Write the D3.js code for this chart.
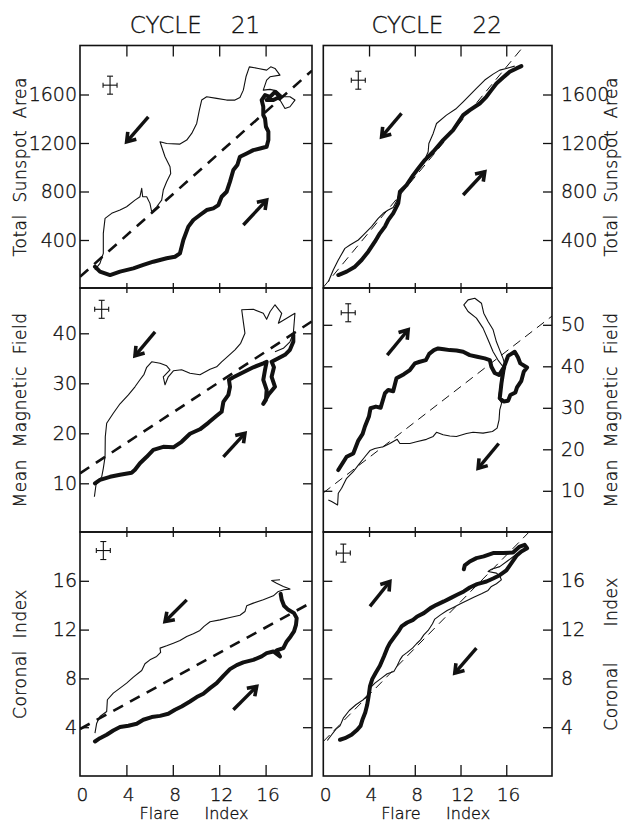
<!DOCTYPE html>
<html>
<head>
<meta charset="utf-8">
<script src="https://cdn.jsdelivr.net/npm/d3@7"></script>
<style>
  body { margin: 0; background: #fff; }
  svg { display: block; }
  text { font-family: "DejaVu Sans", sans-serif; font-weight: 300; fill: #111; stroke: #111; stroke-width: 0.35px; }
</style>
</head>
<body>
<svg id="chart" width="622" height="822"></svg>
<script>
// column titles and axis labels
const cycleTitles = ["CYCLE    21", "CYCLE    22"];
const rowLabelsLeft = ["Total  Sunspot  Area", "Mean  Magnetic  Field", "Coronal  Index"];
const rowLabelsRight = ["Total  Sunspot  Area", "Mean  Magnetic  Field", "Coronal      Index"];
const xLabel = "Flare     Index";

// tick values
const flareTicks = [0, 4, 8, 12, 16];
const areaTicks = [400, 800, 1200, 1600];
const fieldTicks21 = [10, 20, 30, 40];
const fieldTicks22 = [10, 20, 30, 40, 50];
const coronalTicks = [4, 8, 12, 16];

const areaDomain = [0, 2000];
const field21Domain = [0, 49];
const field22Domain = [0, 58.7];
const coronalDomain = [0, 20];

// cycle 21, sunspot area vs flare index
const c21AreaRise = [[1.29,180],[1.72,139],[2.59,111],[3.45,139],[4.60,166],[5.46,194],[6.32,221],[7.47,249],
  [8.19,262],[8.62,290],[8.91,400],[9.34,510],[9.77,565],[10.34,606],[10.92,647],[11.49,661],[11.93,688],
  [12.21,757],[12.64,798],[12.93,881],[13.22,977],[13.56,1018],[13.79,1087],[14.37,1114],[14.94,1141],
  [15.52,1155],[16.09,1169],[16.24,1224],[16.24,1293],[16.03,1334],[15.95,1402],[15.80,1430],[15.80,1499],
  [15.66,1554],[15.95,1595],[16.38,1581],[16.81,1622],[17.24,1581],[16.67,1554],[16.09,1554]];
const c21AreaDecay = [[1.29,153],[1.72,207],[2.01,290],[2.01,455],[2.16,578],[2.73,620],[3.45,647],[4.02,674],
  [4.74,729],[5.17,757],[5.32,826],[5.40,757],[5.75,757],[6.03,702],[6.18,633],[6.61,674],[7.04,729],[7.18,812],
  [7.47,880],[7.82,949],[7.76,1004],[7.33,1087],[7.04,1169],[6.90,1210],[7.47,1196],[8.62,1191],[9.20,1224],
  [9.63,1279],[10.06,1361],[10.29,1471],[10.49,1554],[10.92,1581],[11.78,1568],[12.64,1554],[13.36,1554],
  [13.79,1576],[14.08,1636],[14.31,1746],[14.60,1828],[15.37,1815],[16.09,1801],[16.44,1828],[16.81,1815],
  [17.24,1760],[16.38,1746],[16.09,1719],[15.80,1636],[16.38,1642],[16.95,1630],[17.53,1581],[18.10,1581],
  [18.53,1554],[18.10,1499],[17.67,1485],[17.24,1554],[16.67,1568]];

// cycle 22, sunspot area vs flare index
const c22AreaRise = [[1.31,111],[2.04,139],[2.77,180],[3.35,235],[3.93,304],[4.51,386],[4.95,455],[5.39,510],
  [5.68,565],[6.11,620],[6.55,702],[6.70,798],[7.28,853],[7.86,935],[8.30,990],[8.88,1059],[9.61,1128],
  [10.48,1224],[11.35,1306],[12.23,1430],[12.81,1471],[13.68,1526],[14.26,1581],[14.70,1636],[15.14,1691],
  [15.72,1740],[16.30,1787],[16.89,1815],[17.32,1834]];
const c22AreaDecay = [[0.44,56],[0.87,152],[1.31,235],[1.89,331],[2.33,359],[3.06,400],[3.49,441],[4.22,510],
  [4.80,578],[5.24,620],[5.68,647],[6.11,668],[6.46,729],[6.70,806],[7.57,880],[8.15,977],[8.73,1031],
  [9.17,1128],[9.23,1196],[9.61,1279],[9.90,1361],[10.77,1430],[11.64,1485],[12.23,1540],[12.66,1581],
  [13.39,1650],[14.12,1719],[14.85,1768],[15.43,1801],[16.01,1815],[16.74,1834]];

// cycle 21, mean magnetic field vs flare index
const c21FieldRise = [[1.29,10.0],[1.72,10.7],[2.59,11.3],[3.45,11.7],[4.45,12.1],[4.74,12.7],[5.17,14.0],
  [5.75,15.3],[6.32,16.7],[7.18,17.3],[8.05,17.2],[8.76,18.3],[9.48,19.9],[10.34,20.8],[11.06,22.1],
  [11.78,23.5],[12.21,24.3],[12.36,26.3],[12.79,27.7],[12.93,29.3],[12.84,30.7],[13.22,31.2],[14.08,32.2],
  [14.94,33.2],[15.80,34.0],[16.09,34.3],[15.95,32.7],[15.80,30.7],[16.09,28.7],[16.03,26.7],[15.80,25.9],
  [16.24,27.7],[16.81,29.3],[16.52,31.3],[16.72,33.2],[16.52,34.3],[17.10,35.0],[17.67,35.7],[18.10,36.7],
  [18.39,38.3],[18.39,39.7]];
const c21FieldDecay = [[1.24,7.3],[1.38,9.7],[1.87,11.3],[2.01,13.0],[2.16,15.3],[2.18,19.3],[2.30,22.0],
  [2.87,24.0],[3.45,25.9],[4.17,27.7],[4.74,29.3],[5.17,30.7],[5.52,31.8],[5.75,33.2],[6.18,34.3],[6.90,34.0],
  [7.47,33.5],[7.76,32.7],[7.18,31.3],[7.33,29.7],[7.61,31.3],[8.05,32.5],[8.76,32.7],[9.48,32.0],[10.34,31.7],
  [11.21,32.8],[11.78,33.3],[12.21,34.3],[12.79,35.5],[13.36,36.7],[13.85,38.0],[14.22,40.0],[14.08,42.3],
  [13.94,44.7],[14.94,44.8],[15.80,44.0],[16.09,42.8],[16.38,44.3],[16.81,45.7],[17.39,44.0],[17.10,42.0],
  [17.82,43.0],[18.53,44.0],[18.39,40.0],[18.10,38.3],[17.53,37.0],[16.81,36.3]];

// cycle 22, mean magnetic field vs flare index
const c22FieldRise = [[1.31,15.0],[2.04,18.2],[2.62,19.0],[3.06,22.1],[3.44,23.7],[3.64,25.5],[3.99,27.9],
  [4.13,29.9],[4.60,30.3],[5.01,30.0],[5.39,33.5],[5.68,34.3],[6.11,34.0],[6.40,37.1],[7.05,38.1],[7.57,39.1],
  [8.01,40.7],[8.44,41.1],[8.97,41.5],[9.26,43.0],[9.67,43.9],[10.04,44.3],[10.54,44.1],[11.06,43.9],
  [11.65,43.8],[12.23,43.5],[12.81,42.7],[13.45,42.3],[14.12,41.9],[14.56,41.5],[14.70,39.9],[14.99,38.4],
  [15.37,37.9],[15.78,39.7],[16.16,42.5],[16.74,43.5],[17.03,42.1],[17.23,40.7],[17.82,39.7],[17.53,38.7],
  [17.32,36.5],[16.94,34.9],[16.80,33.7],[16.36,33.1],[16.16,31.7],[15.78,31.5],[15.43,32.3],[15.58,35.9],
  [15.78,39.5]];
const c22FieldDecay = [[15.72,39.9],[15.28,41.5],[14.85,43.5],[14.41,46.4],[13.97,49.2],[13.39,51.6],
  [12.66,53.2],[12.29,54.8],[12.66,56.0],[13.25,56.4],[13.83,55.2],[14.03,52.8],[14.41,50.8],[14.85,48.8],
  [15.14,45.9],[15.43,43.9],[15.72,41.9],[15.95,39.7],[15.57,37.5],[15.43,34.3],[15.31,32.3],[15.60,31.2],
  [15.43,29.5],[15.37,27.1],[15.20,25.1],[14.79,24.3],[13.97,23.9],[13.10,24.1],[12.52,23.8],[11.64,23.1],
  [11.06,23.2],[10.48,23.5],[9.90,24.1],[9.61,23.1],[9.02,22.4],[8.15,21.8],[7.57,21.4],[6.70,21.4],
  [6.46,22.4],[5.82,21.4],[5.24,20.6],[4.51,20.2],[4.08,19.7],[3.64,18.2],[3.06,16.2],[2.62,14.6],
  [2.04,13.0],[1.60,10.6],[1.31,9.4],[1.25,6.6],[0.73,7.4],[0.44,7.8]];

// cycle 21, coronal index vs flare index
const c21CoronaRise = [[1.29,2.83],[1.72,3.10],[2.30,3.38],[2.87,3.73],[3.45,4.01],[4.17,4.12],[4.89,4.28],
  [5.46,4.61],[6.18,4.83],[6.90,4.93],[7.61,5.10],[8.19,5.43],[8.76,5.70],[9.48,6.11],[10.06,6.47],
  [10.63,6.74],[11.21,7.20],[11.78,7.61],[12.36,8.21],[12.93,8.76],[13.51,9.09],[14.08,9.31],[14.94,9.52],
  [15.66,9.80],[16.09,10.07],[16.67,10.21],[17.24,9.80],[16.95,10.29],[17.53,10.48],[17.82,11.03],
  [18.16,11.44],[18.45,11.85],[18.62,12.39],[18.68,12.94],[18.45,13.35],[17.96,13.62],[17.59,13.95],
  [17.39,14.44],[17.30,14.93]];
const c21CoronaDecay = [[1.29,3.51],[1.44,4.33],[1.72,4.88],[2.30,5.29],[2.36,6.25],[2.87,6.79],[3.45,7.20],
  [4.02,7.61],[4.60,8.10],[5.32,8.65],[5.60,9.20],[6.03,9.52],[6.61,9.80],[6.95,10.13],[6.90,10.48],
  [7.47,10.67],[8.05,10.89],[8.62,11.11],[9.20,11.44],[9.77,11.66],[10.34,11.93],[10.69,12.26],[11.21,12.64],
  [12.07,12.80],[12.93,12.99],[13.79,13.18],[14.22,13.48],[14.37,13.95],[14.94,14.17],[15.80,14.44],
  [16.67,14.77],[17.10,15.13],[17.59,15.26],[18.10,15.32],[17.53,15.54],[16.95,15.80],[16.52,16.02],
  [17.24,16.08]];

// cycle 22, coronal index vs flare index
const c22CoronaRise = [[1.46,2.97],[1.89,3.10],[2.47,3.38],[2.97,3.79],[3.26,4.11],[3.44,4.66],[3.67,5.21],
  [3.84,5.84],[3.96,6.52],[4.08,7.34],[4.28,7.94],[4.60,8.49],[4.95,9.03],[5.30,9.80],[5.59,10.48],
  [5.82,10.89],[6.20,11.38],[6.61,11.90],[6.84,12.26],[7.34,12.58],[7.86,12.80],[8.21,13.08],[8.79,13.35],
  [9.37,13.76],[9.90,14.03],[10.54,14.31],[11.12,14.58],[11.70,14.85],[12.29,15.13],[12.81,15.45],
  [13.45,15.73],[14.27,15.94],[14.85,16.19],[15.43,16.46],[16.01,16.85],[16.45,17.45],[16.89,18.05],
  [17.32,18.40],[17.82,18.67],[17.61,18.95],[17.18,18.81],[16.59,18.32],[15.72,18.27],[14.85,18.27],
  [14.03,18.00],[13.39,17.86],[12.81,17.58],[12.37,17.26],[12.29,16.95]];
const c22CoronaDecay = [[0.35,2.91],[0.73,3.38],[1.11,3.84],[1.46,4.11],[1.75,4.74],[2.27,5.37],[2.85,5.84],
  [3.49,6.25],[3.93,6.66],[4.08,7.20],[4.51,7.61],[5.09,8.02],[5.59,8.38],[6.17,8.57],[6.46,9.03],[6.70,9.52],
  [6.93,9.85],[7.34,10.13],[7.80,10.48],[8.15,10.84],[8.50,11.16],[8.79,11.57],[9.17,11.93],[9.55,12.48],
  [9.75,12.86],[10.25,13.21],[10.83,13.57],[11.41,13.84],[11.99,14.11],[12.58,14.39],[13.16,14.66],
  [13.83,14.93],[14.41,15.21],[14.70,15.54],[15.14,15.76],[15.57,16.08],[15.43,16.41],[15.14,16.63],
  [14.41,16.76],[14.70,16.95],[15.43,17.16],[16.16,17.66],[16.83,18.13],[17.47,18.54]];

// regression lines: [intercept, slope]
const fitLines = [[97, 85], [10, 113.5], [12, 1.52], [9.5, 2.13], [3.85, 0.52], [2.83, 0.954]];

// error bar cross centres
const errorCentres = [[2.59, 1677], [3.06, 1718], [1.87, 44.8], [2.18, 52.9], [2.01, 18.48], [1.75, 18.27]];

// direction arrows: [tailX, tailY, headX, headY]
const arrows = [
  [[5.89, 1416, 4.02, 1210], [14.08, 524, 16.09, 729]],
  [[6.84, 1444, 5.10, 1251], [12.23, 771, 14.12, 963]],
  [[6.47, 40.3, 4.74, 35.5], [12.36, 15.3, 14.22, 20.0]],
  [[5.59, 42.7, 7.42, 48.8], [15.34, 21.4, 13.54, 15.4]],
  [[9.20, 14.44, 7.33, 12.66], [13.22, 5.43, 15.23, 7.34]],
  [[4.08, 13.90, 5.82, 15.94], [13.39, 10.48, 11.50, 8.43]]
];

const svg = d3.select("#chart");
const ink = "#111";

// frame layout
const colX = [[80, 312], [323.3, 552]];
const rowY = [[45.5, 288], [288, 532], [532, 776]];

const panels = [
  { col: 0, row: 0, domain: areaDomain, yRange: [288.5, 46], ticks: areaTicks, rise: c21AreaRise, decay: c21AreaDecay },
  { col: 1, row: 0, domain: areaDomain, yRange: [288.5, 46], ticks: areaTicks, rise: c22AreaRise, decay: c22AreaDecay },
  { col: 0, row: 1, domain: field21Domain, yRange: [533.3, 288.3], ticks: fieldTicks21, rise: c21FieldRise, decay: c21FieldDecay },
  { col: 1, row: 1, domain: field22Domain, yRange: [532.3, 288.7], ticks: fieldTicks22, rise: c22FieldRise, decay: c22FieldDecay },
  { col: 0, row: 2, domain: coronalDomain, yRange: [776, 532], ticks: coronalTicks, rise: c21CoronaRise, decay: c21CoronaDecay },
  { col: 1, row: 2, domain: coronalDomain, yRange: [776, 532], ticks: coronalTicks, rise: c22CoronaRise, decay: c22CoronaDecay }
];

const fmt = d3.format("d");

panels.forEach((p, i) => {
  const [x0, x1] = colX[p.col];
  const [y0, y1] = rowY[p.row];
  const x = d3.scaleLinear().domain([0, 20]).range([x0, x1]);
  const y = d3.scaleLinear().domain(p.domain).range(p.yRange);
  const g = svg.append("g");

  const clipId = "clip" + i;
  svg.append("clipPath").attr("id", clipId)
    .append("rect").attr("x", x0).attr("y", y0).attr("width", x1 - x0).attr("height", y1 - y0);

  const plot = g.append("g").attr("clip-path", `url(#${clipId})`);
  const line = d3.line().x(d => x(d[0])).y(d => y(d[1]));

  // regression line
  const [a, b] = fitLines[i];
  plot.append("path")
    .attr("d", line([[0, a], [20, a + 20 * b]]))
    .attr("fill", "none").attr("stroke", ink)
    .attr("stroke-width", p.col === 0 ? 2.6 : 1)
    .attr("stroke-dasharray", p.col === 0 ? "11,8" : "9,6");

  // declining phase (thin) and rising phase (thick)
  plot.append("path").attr("d", line(p.decay))
    .attr("fill", "none").attr("stroke", ink).attr("stroke-width", 1.1)
    .attr("stroke-linejoin", "round");
  plot.append("path").attr("d", line(p.rise))
    .attr("fill", "none").attr("stroke", ink).attr("stroke-width", 4)
    .attr("stroke-linejoin", "round").attr("stroke-linecap", "round");

  // error bar cross
  const [ex, ey] = errorCentres[i];
  const cx = x(ex), cy = y(ey);
  const eb = g.append("g").attr("stroke", ink).attr("stroke-width", 1.1);
  eb.append("line").attr("x1", cx - 7).attr("x2", cx + 7).attr("y1", cy).attr("y2", cy);
  eb.append("line").attr("x1", cx).attr("x2", cx).attr("y1", cy - 9).attr("y2", cy + 9);
  eb.append("line").attr("x1", cx - 3).attr("x2", cx + 3).attr("y1", cy - 9).attr("y2", cy - 9);
  eb.append("line").attr("x1", cx - 3).attr("x2", cx + 3).attr("y1", cy + 9).attr("y2", cy + 9);
  eb.append("line").attr("x1", cx - 7).attr("x2", cx - 7).attr("y1", cy - 2.5).attr("y2", cy + 2.5);
  eb.append("line").attr("x1", cx + 7).attr("x2", cx + 7).attr("y1", cy - 2.5).attr("y2", cy + 2.5);

  // arrows
  arrows[i].forEach(([tx, ty, hx, hy]) => {
    const ax = x(tx), ay = y(ty), bx = x(hx), by = y(hy);
    const ang = Math.atan2(by - ay, bx - ax);
    const len = 10;
    const h1 = [bx - len * Math.cos(ang - 0.6), by - len * Math.sin(ang - 0.6)];
    const h2 = [bx - len * Math.cos(ang + 0.6), by - len * Math.sin(ang + 0.6)];
    g.append("line").attr("x1", ax).attr("y1", ay).attr("x2", bx).attr("y2", by)
      .attr("stroke", ink).attr("stroke-width", 3.4);
    g.append("path").attr("d", `M${h1}L${bx},${by}L${h2}`)
      .attr("fill", "none").attr("stroke", ink).attr("stroke-width", 3.6)
      .attr("stroke-linejoin", "miter");
  });

  // frame
  g.append("rect").attr("x", x0).attr("y", y0).attr("width", x1 - x0).attr("height", y1 - y0)
    .attr("fill", "none").attr("stroke", ink).attr("stroke-width", 1.6);

  // y axes: labelled outside, plain ticks on opposite side
  const yLab = (p.col === 0 ? d3.axisLeft(y).tickPadding(3) : d3.axisRight(y).tickPadding(9))
    .tickValues(p.ticks).tickSizeInner(-9).tickSizeOuter(0).tickFormat(fmt);
  const yPlain = (p.col === 0 ? d3.axisRight(y) : d3.axisLeft(y))
    .tickValues(p.ticks).tickSizeInner(-9).tickSizeOuter(0).tickFormat("");
  const labX = p.col === 0 ? x0 : x1;
  const plainX = p.col === 0 ? x1 : x0;
  g.append("g").attr("transform", `translate(${labX},0)`).call(yLab)
    .call(s => s.select(".domain").remove())
    .call(s => s.selectAll("text").attr("font-size", 19).attr("font-family", null));
  g.append("g").attr("transform", `translate(${plainX},0)`).call(yPlain)
    .call(s => s.select(".domain").remove());

  // x axes: inward ticks top and bottom
  const topLen = p.row === 0 ? 11 : 5;
  const botLen = p.row === 2 ? 11 : 5;
  g.append("g").attr("transform", `translate(0,${y0})`)
    .call(d3.axisTop(x).tickValues(flareTicks.slice(1)).tickSizeInner(-topLen).tickSizeOuter(0).tickFormat(""))
    .call(s => s.select(".domain").remove());
  const xb = d3.axisBottom(x).tickSizeInner(-botLen).tickSizeOuter(0);
  if (p.row === 2) {
    xb.tickValues(flareTicks).tickPadding(12).tickFormat(fmt);
  } else {
    xb.tickValues(flareTicks.slice(1)).tickFormat("");
  }
  const gx = g.append("g").attr("transform", `translate(0,${y1})`).call(xb)
    .call(s => s.select(".domain").remove())
    .call(s => s.selectAll("text").attr("font-size", 18.5).attr("font-family", null).attr("dx", "0.1em"));
  if (p.row === 2) gx.selectAll(".tick").filter(d => d === 0).select("line").remove();

  g.selectAll(".tick line").attr("stroke", ink).attr("stroke-width", 1.3);

  // rotated row label
  const labelX = p.col === 0 ? 26 : 617;
  g.append("text")
    .attr("transform", `translate(${labelX},${(y0 + y1) / 2}) rotate(-90)`)
    .attr("text-anchor", "middle").attr("font-size", 17).attr("letter-spacing", 0.5)
    .style("white-space", "pre")
    .text(p.col === 0 ? rowLabelsLeft[p.row] : rowLabelsRight[p.row]);

  // column title and x label
  if (p.row === 0) {
    svg.append("text").attr("x", (x0 + x1) / 2 - 1).attr("y", 33)
      .attr("text-anchor", "middle").attr("font-size", 23).style("white-space", "pre")
      .text(cycleTitles[p.col]);
  }
  if (p.row === 2) {
    svg.append("text").attr("x", (x0 + x1) / 2 - 2).attr("y", 819)
      .attr("text-anchor", "middle").attr("font-size", 16).style("white-space", "pre")
      .text(xLabel);
  }
});
</script>
</body>
</html>
